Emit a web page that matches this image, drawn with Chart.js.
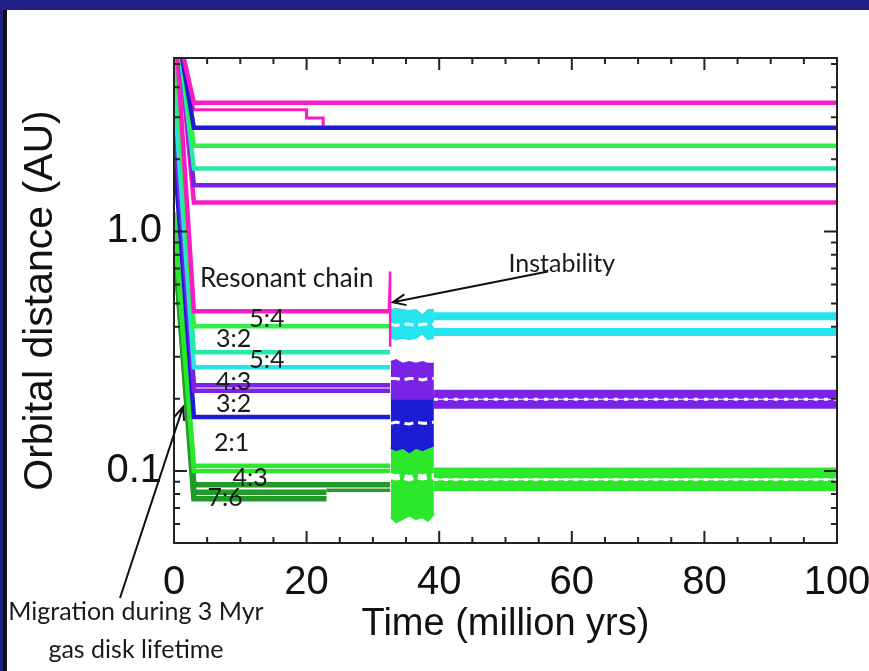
<!DOCTYPE html>
<html>
<head>
<meta charset="utf-8">
<script src="https://cdn.jsdelivr.net/npm/chart.js@4.4.0/dist/chart.umd.min.js"></script>
<style>
  html, body { margin: 0; padding: 0; width: 869px; height: 671px; background: #1f1f86; overflow: hidden; }
  #panel { position: absolute; left: 3px; top: 10px; right: -4px; bottom: 0; background: #fff; border-left: 4px solid #111; }
  #c { position: absolute; left: 0; top: 0; }
</style>
</head>
<body>
<div id="panel"></div>
<canvas id="c" width="869" height="671"></canvas>
<script>
// times (million yrs)
var gasEnd = 3;
var chainBreak = 32.6;
var settled = 39.2;
var tEnd = 100;
var xTicks = [0, 20, 40, 60, 80, 100];
var yTicks = [0.05, 0.06, 0.07, 0.08, 0.09, 0.1, 0.2, 0.3, 0.4, 0.5, 0.6, 0.7, 0.8, 0.9, 1, 2, 3, 4, 5];

// outer planets (AU), stable for the whole run
var outerStart = [8, 8.5, 9, 9.5, 10, 10.5];
var outerOrbit = [3.45, 2.71, 2.28, 1.83, 1.56, 1.32];
var outerColor = ['#f81cc4', '#1c1cd4', '#2ef048', '#28e8a8', '#7a22e6', '#f81cc4'];

// outer planet lost around 22 Myr
var lostT = [0, 3, 20, 20, 22.5, 22.5];
var lostA = [8, 3.22, 3.22, 2.98, 2.98, 2.66];

// inner resonant chain
var chainStart = [9, 7, 5.5, 4, 3.2, 3, 2.2, 1.2, 1.1, 1.0, 0.98, 0.96];
var chainOrbit = [0.464, 0.402, 0.313, 0.271, 0.228, 0.216, 0.168, 0.105, 0.1, 0.0875, 0.0815, 0.0765];
var chainStop = [32.6, 32.6, 32.6, 32.6, 32.6, 32.6, 32.6, 32.6, 32.6, 32.6, 23, 23];
var chainColor = ['#f81cc4', '#2ef048', '#28e8a8', '#26e4ee', '#7a22e6', '#7a22e6', '#1c1cd4', '#2be82b', '#2be82b', '#229a2a', '#229a2a', '#229a2a'];

// spike of the innermost magenta planet at the instability
var spikeT = [32.4, 32.6, 32.6];
var spikeA = [0.464, 0.68, 0.33];

// chaotic phase envelopes
var chaosT = [32.7, 33.5, 34.5, 35.5, 36.5, 37.5, 38.3, 39.2];
var cyanHi = [0.47, 0.475, 0.47, 0.465, 0.47, 0.445, 0.47, 0.47];
var cyanLo = [0.36, 0.355, 0.36, 0.355, 0.36, 0.375, 0.355, 0.36];
var cyanGap = [0.41, 0.405, 0.41, 0.41, 0.405, 0.41, 0.41, 0.41];
var violetHi = [0.285, 0.29, 0.28, 0.285, 0.28, 0.285, 0.28, 0.28];
var violetLo = [0.2, 0.2, 0.2, 0.2, 0.2, 0.2, 0.2, 0.2];
var violetGap = [0.243, 0.243, 0.24, 0.243, 0.243, 0.24, 0.243, 0.243];
var blueHi = [0.205, 0.205, 0.205, 0.205, 0.205, 0.205, 0.205, 0.205];
var blueLo = [0.125, 0.122, 0.125, 0.12, 0.125, 0.122, 0.125, 0.128];
var blueGap = [0.158, 0.16, 0.158, 0.157, 0.16, 0.158, 0.158, 0.16];
var limeHi = [0.127, 0.125, 0.127, 0.125, 0.127, 0.125, 0.127, 0.127];
var limeLo = [0.064, 0.061, 0.063, 0.065, 0.063, 0.064, 0.062, 0.066];
var limeGap = [0.095, 0.094, 0.095, 0.093, 0.095, 0.094, 0.095, 0.095];

// final orbits after the instability
var cyanFinal = [0.442, 0.38];
var violetFinal = [0.209, 0.19];
var limeFinal = [0.098, 0.0866];

function pts(ts, as) {
  return ts.map(function (t, i) { return { x: t, y: as[i] }; });
}
function line(data, color, width, order, extra) {
  var d = { data: data, borderColor: color, borderWidth: width, fill: false, order: order };
  for (var k in extra) d[k] = extra[k];
  return d;
}

var sets = [];
outerOrbit.forEach(function (a, i) {
  sets.push(line(pts([0, gasEnd, tEnd], [outerStart[i], a, a]), outerColor[i], 4.5, 3));
});
sets.push(line(pts(lostT, lostA), '#f81cc4', 3, 3));
chainOrbit.forEach(function (a, i) {
  sets.push(line(pts([0, gasEnd, chainStop[i]], [chainStart[i], a, a]), chainColor[i], i >= 9 ? 5.5 : 4.5, 3));
});
sets.push(line(pts([23, chainBreak], [0.083, 0.083]), '#229a2a', 3.5, 3));
sets.push(line(pts(spikeT, spikeA), '#f81cc4', 2.5, 1));

function band(hi, lo, gap, color, gapWidth) {
  sets.push(line(pts(chaosT, hi), color, 2, 4));
  sets.push(line(pts(chaosT, lo), color, 2, 4, { fill: '-1', backgroundColor: color }));
  sets.push(line(pts(chaosT, gap), '#ffffff', gapWidth, 2, { borderDash: [9, 5] }));
}
band(cyanHi, cyanLo, cyanGap, '#26e4ee', 3);
band(violetHi, violetLo, violetGap, '#7a22e6', 3);
band(blueHi, blueLo, blueGap, '#1c1cd4', 3);
band(limeHi, limeLo, limeGap, '#2be82b', 6);

function steady(pair, color, width, dotted) {
  pair.forEach(function (a) {
    sets.push(line(pts([settled, tEnd], [a, a]), color, width, 3));
  });
  if (dotted) {
    var mid = Math.sqrt(pair[0] * pair[1]);
    sets.push(line(pts([settled, tEnd], [mid, mid]), '#ffffff', 3, 1, { borderDash: [4, 6] }));
  }
}
steady(cyanFinal, '#26e4ee', 8, false);
steady(violetFinal, '#7a22e6', 9, true);
steady(limeFinal, '#2be82b', 11, true);

var axisFamily = 'Liberation Sans';
var noteFamily = 'Lato';

function drawArrow(ctx, x0, y0, x1, y1) {
  var ang = Math.atan2(y1 - y0, x1 - x0), h = 14;
  ctx.beginPath();
  ctx.moveTo(x0, y0); ctx.lineTo(x1, y1);
  ctx.moveTo(x1 - h * Math.cos(ang - 0.4), y1 - h * Math.sin(ang - 0.4));
  ctx.lineTo(x1, y1);
  ctx.lineTo(x1 - h * Math.cos(ang + 0.4), y1 - h * Math.sin(ang + 0.4));
  ctx.stroke();
}

var framePlugin = {
  id: 'frame',
  afterDatasetsDraw: function (chart) {
    var ctx = chart.ctx, a = chart.chartArea, xs = chart.scales.x, ys = chart.scales.y;
    ctx.save();
    ctx.strokeStyle = '#222';
    ctx.lineWidth = 2;
    ctx.strokeRect(a.left, a.top, a.right - a.left, a.bottom - a.top);
    ctx.beginPath();
    for (var t = 0; t <= 100; t += 5) {
      var px = xs.getPixelForValue(t), len = t % 20 === 0 ? 12 : 6;
      ctx.moveTo(px, a.bottom); ctx.lineTo(px, a.bottom - len);
      ctx.moveTo(px, a.top); ctx.lineTo(px, a.top + len);
    }
    yTicks.forEach(function (v) {
      var py = ys.getPixelForValue(v), len = (v === 0.1 || v === 1) ? 13 : 6;
      ctx.moveTo(a.left, py); ctx.lineTo(a.left + len, py);
      ctx.moveTo(a.right, py); ctx.lineTo(a.right - len, py);
    });
    ctx.stroke();
    ctx.restore();
  },
  afterDraw: function (chart) {
    var ctx = chart.ctx, xs = chart.scales.x, ys = chart.scales.y;
    function X(t) { return xs.getPixelForValue(t); }
    function Y(v) { return ys.getPixelForValue(v); }
    ctx.save();
    ctx.fillStyle = '#1a1a1a';
    ctx.textAlign = 'center';
    ctx.textBaseline = 'middle';
    ctx.font = '26px ' + noteFamily;
    ctx.fillText('Resonant chain', X(17), Y(0.637));
    ctx.font = '25px ' + noteFamily;
    ctx.fillText('Instability', X(58.5), Y(0.729));
    [['5:4', 14, 0.43], ['3:2', 9, 0.355], ['5:4', 14, 0.29], ['4:3', 9, 0.235],
     ['3:2', 9, 0.19], ['2:1', 8.7, 0.131], ['4:3', 11.5, 0.0935], ['7:6', 7.7, 0.077]].forEach(function (n) {
      ctx.fillText(n[0], X(n[1]), Y(n[2]));
    });
    ctx.fillText('Migration during 3 Myr', 136, 612);
    ctx.fillText('gas disk lifetime', 136, 650);
    ctx.strokeStyle = '#111';
    ctx.lineWidth = 2;
    drawArrow(ctx, X(56.4), Y(0.681), X(33.0), Y(0.506));
    drawArrow(ctx, 120, 598, X(1.36), Y(0.185));
    ctx.restore();
  }
};

new Chart(document.getElementById('c'), {
  type: 'line',
  data: { datasets: sets },
  options: {
    responsive: false,
    animation: false,
    events: [],
    layout: { padding: { left: 12, top: 58, right: 32, bottom: 24 } },
    elements: { point: { radius: 0 }, line: { tension: 0, borderCapStyle: 'butt' } },
    plugins: { legend: { display: false }, tooltip: { enabled: false } },
    scales: {
      x: {
        type: 'linear', min: 0, max: 100,
        afterBuildTicks: function (s) { s.ticks = xTicks.map(function (v) { return { value: v }; }); },
        grid: { display: false, drawTicks: false },
        border: { display: false },
        ticks: { font: { family: axisFamily, size: 40 }, color: '#111', padding: 16, maxRotation: 0, autoSkip: false },
        title: { display: true, text: 'Time (million yrs)', color: '#111', font: { family: axisFamily, size: 38 }, padding: { top: 0, bottom: 0 } },
        afterFit: function (s) { s.height = 104; s.paddingLeft = 0; s.paddingRight = 0; }
      },
      y: {
        type: 'logarithmic', min: 0.05, max: 5.3,
        afterBuildTicks: function (s) { s.ticks = yTicks.map(function (v) { return { value: v }; }); },
        grid: { display: false, drawTicks: false },
        border: { display: false },
        ticks: {
          font: { family: axisFamily, size: 40 }, color: '#111', padding: 12, autoSkip: false,
          callback: function (v) {
            if (Math.abs(v - 1) < 1e-9) return '1.0';
            if (Math.abs(v - 0.1) < 1e-9) return '0.1';
            return '';
          }
        },
        title: { display: true, text: 'Orbital distance (AU)', color: '#111', font: { family: axisFamily, size: 41 }, padding: { top: 4, bottom: 0 } },
        afterFit: function (s) { s.width = 162; s.paddingTop = 0; s.paddingBottom = 0; }
      }
    }
  },
  plugins: [framePlugin]
});
</script>
</body>
</html>
